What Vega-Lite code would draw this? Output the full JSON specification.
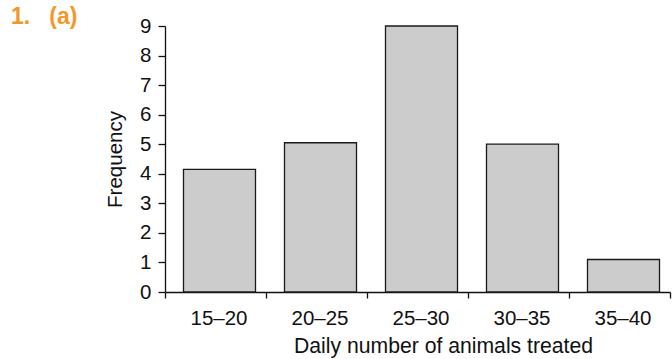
{
  "$schema": "https://vega.github.io/schema/vega-lite/v6.json",
  "autosize": "none",
  "width": 505,
  "height": 266,
  "padding": {"left": 165, "top": 26, "right": 2, "bottom": 67},
  "background": "white",
  "title": {
    "text": "1.\u00a0\u00a0\u00a0(a)",
    "anchor": "start",
    "frame": "group",
    "dx": -154,
    "dy": 13,
    "offset": 0,
    "font": "Liberation Sans",
    "fontSize": 23,
    "fontWeight": "bold",
    "color": "#F5962A",
    "baseline": "top"
  },
  "data": {
    "values": [
      {"interval": "15–20", "frequency": 4.15},
      {"interval": "20–25", "frequency": 5.05},
      {"interval": "25–30", "frequency": 9},
      {"interval": "30–35", "frequency": 5},
      {"interval": "35–40", "frequency": 1.1}
    ]
  },
  "mark": {
    "type": "bar",
    "width": {"band": 0.713},
    "xOffset": 4,
    "fill": "#CCCCCC",
    "stroke": "#1a1a1a",
    "strokeWidth": 1.3
  },
  "encoding": {
    "x": {
      "field": "interval",
      "type": "nominal",
      "sort": null,
      "scale": {"paddingInner": 0, "paddingOuter": 0},
      "axis": {
        "title": "Daily number of animals treated",
        "labelAngle": 0,
        "tickBand": "extent",
        "labelOffset": 3,
        "labelFont": "Liberation Sans",
        "labelFontSize": 20.5,
        "labelColor": "#111",
        "labelPadding": 10,
        "titleFont": "Liberation Sans",
        "titleFontSize": 21.2,
        "titleFontWeight": "normal",
        "titleColor": "#111",
        "titleX": 278,
        "titleAnchor": "middle",
        "titlePadding": 7,
        "domainColor": "#111",
        "domainWidth": 1.3,
        "tickColor": "#111",
        "tickWidth": 1.3,
        "tickSize": 6
      }
    },
    "y": {
      "field": "frequency",
      "type": "quantitative",
      "scale": {"domain": [0, 9], "nice": false},
      "axis": {
        "title": "Frequency",
        "values": [0, 1, 2, 3, 4, 5, 6, 7, 8, 9],
        "grid": false,
        "labelFont": "Liberation Sans",
        "labelFontSize": 20.5,
        "labelColor": "#111",
        "labelPadding": 7,
        "tickSize": 7,
        "tickColor": "#111",
        "tickWidth": 1.3,
        "domainColor": "#111",
        "domainWidth": 1.3,
        "titleFont": "Liberation Sans",
        "titleFontSize": 20.5,
        "titleFontWeight": "normal",
        "titleColor": "#111",
        "titlePadding": 14
      }
    }
  },
  "config": {"view": {"stroke": null}}
}
